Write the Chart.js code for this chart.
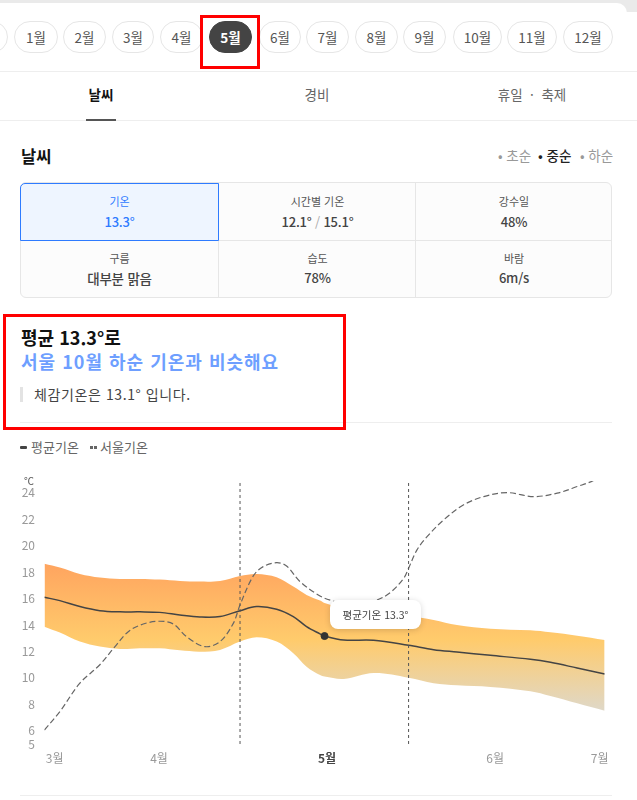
<!DOCTYPE html>
<html lang="ko"><head><meta charset="utf-8">
<script src="https://cdn.jsdelivr.net/npm/chart.js@4"></script>
<style>
*{box-sizing:border-box}
html,body{margin:0;padding:0;background:#fff;width:637px;height:800px;overflow:hidden;font-family:"Noto Sans CJK KR","Noto Sans",sans-serif}
.a{position:absolute;white-space:nowrap}
.c{transform:translate(-50%,-50%)}
.m{transform:translateY(-50%)}
.pill{position:absolute;top:21px;height:32px;border:1px solid #e6e6e6;border-radius:16px;font-size:13.5px;color:#555;display:flex;align-items:center;justify-content:center;background:#fff;padding-bottom:1px}
.pill.on{background:#444;border-color:#444;color:#fff;font-weight:700}
.red{position:absolute;border:3px solid #f00}
.cell{position:absolute;text-align:center}
.k{position:absolute;left:0;right:0;top:11px;font-size:11px;line-height:15px;color:#555}
.v{position:absolute;left:0;right:0;top:30px;font-size:13px;line-height:18px;font-weight:500;color:#444;letter-spacing:-.2px}
#chartBox{position:absolute;left:0;top:470px;width:637px;height:300px}
canvas{display:block}
</style></head><body>
<div class="a" style="left:0;top:0;width:637px;height:12px;background:#eaeaea"></div>
<div class="a" style="left:-20px;top:3px;width:647px;height:40px;background:#fff;border-radius:10px"></div>
<div id="pills"></div>
<div class="a" style="left:0;top:71px;width:637px;height:1px;background:#eee"></div>
<div class="a c" style="left:101px;top:94px;font-size:13.5px;font-weight:700;color:#111">날씨</div>
<div class="a c" style="left:317px;top:94px;font-size:13.5px;color:#666">경비</div>
<div class="a c" style="left:532px;top:94px;font-size:13.5px;color:#666">휴일 &nbsp;·&nbsp; 축제</div>
<div class="a" style="left:0;top:120px;width:637px;height:1px;background:#eee"></div>
<div class="a" style="left:86px;top:119px;width:30px;height:2px;background:#555"></div>

<div class="a m" style="left:21px;top:156px;font-size:16.5px;font-weight:700;color:#111">날씨</div>
<div class="a m" style="left:498px;top:155px;font-size:13.5px;color:#999">• 초순</div>
<div class="a m" style="left:538px;top:155px;font-size:13.5px;color:#222;font-weight:500">• 중순</div>
<div class="a m" style="left:580px;top:155px;font-size:13.5px;color:#999">• 하순</div>

<div class="a" style="left:20px;top:182px;width:592px;height:116px;border:1px solid #e6e6e6;border-radius:6px;background:#fcfcfc"></div>
<div class="a" style="left:218px;top:183px;width:1px;height:114px;background:#e6e6e6"></div>
<div class="a" style="left:415px;top:183px;width:1px;height:114px;background:#e6e6e6"></div>
<div class="a" style="left:21px;top:240px;width:590px;height:1px;background:#e6e6e6"></div>
<div class="a" style="left:20px;top:183px;width:199px;height:58px;border:1px solid #2e7bff;border-radius:5px 0 0 0;background:#eef5ff"></div>
<div class="cell" style="left:20px;top:183px;width:199px;height:58px"><div class="k" style="color:#2e7bff">기온</div><div class="v" style="color:#2e7bff">13.3°</div></div>
<div class="cell" style="left:219px;top:183px;width:197px;height:58px"><div class="k">시간별 기온</div><div class="v">12.1° <span style="color:#aaa;font-weight:400">/</span> 15.1°</div></div>
<div class="cell" style="left:416px;top:183px;width:196px;height:58px"><div class="k">강수일</div><div class="v">48%</div></div>
<div class="cell" style="left:20px;top:240px;width:199px;height:58px"><div class="k">구름</div><div class="v" style="font-size:13.5px;top:29px">대부분 맑음</div></div>
<div class="cell" style="left:219px;top:240px;width:197px;height:58px"><div class="k">습도</div><div class="v" style="top:29px">78%</div></div>
<div class="cell" style="left:416px;top:240px;width:196px;height:58px"><div class="k">바람</div><div class="v" style="top:29px">6m/s</div></div>

<div class="a m" style="left:21px;top:337px;font-size:18px;font-weight:700;color:#111">평균 13.3°로</div>
<div class="a m" style="left:21px;top:361px;font-size:18px;font-weight:700;color:#6e9fff;letter-spacing:1px">서울 10월 하순 기온과 비슷해요</div>
<div class="a" style="left:20px;top:387px;width:3px;height:15px;background:#e3e3e3"></div>
<div class="a m" style="left:34px;top:394px;font-size:14px;color:#444;letter-spacing:.6px">체감기온은 13.1° 입니다.</div>
<div class="a" style="left:20px;top:422px;width:592px;height:1px;background:#eee"></div>

<div class="a" style="left:20px;top:446px;width:7px;height:3px;background:#444;border-radius:1px"></div>
<div class="a m" style="left:31px;top:446px;font-size:13px;color:#666">평균기온</div>
<div class="a" style="left:90px;top:446px;width:3px;height:3px;background:#666"></div>
<div class="a" style="left:94px;top:446px;width:3px;height:3px;background:#666"></div>
<div class="a m" style="left:100px;top:446px;font-size:13px;color:#666">서울기온</div>

<div id="chartBox"><canvas id="cv" width="637" height="300"></canvas></div>
<div class="a m" style="left:24px;top:480px;font-size:10px;color:#555">℃</div>
<div class="a" style="left:330px;top:600px;width:91px;height:29px;background:#fff;border-radius:8px;box-shadow:0 1px 6px rgba(0,0,0,.16);display:flex;align-items:center;justify-content:center;font-size:10.5px;color:#444">평균기온 13.3°</div>
<div class="a" style="left:20px;top:795px;width:592px;height:1px;background:#eee"></div>

<div class="red" style="left:200px;top:15px;width:60px;height:54px"></div>
<div class="red" style="left:3px;top:314px;width:343px;height:116px"></div>

<script>
// Month selector
const monthNames=['1월','2월','3월','4월','5월','6월','7월','8월','9월','10월','11월','12월'];
const monthLeft=[14,63,112,160,209,259,306,355,403,453,507,563];
const monthRight=[58,106,154,203,252,301,349,398,446,502,557,613];
const selectedMonth='5월';
const pillsEl=document.getElementById('pills');
const pre=document.createElement('div');pre.className='pill';pre.style.left='-30px';pre.style.width='38px';pillsEl.appendChild(pre);
monthNames.forEach((n,i)=>{const d=document.createElement('div');d.className='pill'+(n===selectedMonth?' on':'');d.textContent=n;d.style.left=monthLeft[i]+'px';d.style.width=(monthRight[i]-monthLeft[i])+'px';pillsEl.appendChild(d);});

// Chart data (x in month units)
const bandX=[3.333,3.425,3.544,3.663,3.782,3.901,4.020,4.139,4.258,4.378,4.497,4.596,4.715,4.814,4.893,4.973,5.0,5.114,5.292,5.5,5.649,5.788,5.987,6.225,6.344,6.503,6.667];
const bandTop=[18.63,18.35,17.87,17.6,17.49,17.49,17.44,17.34,17.29,17.34,17.72,17.87,17.62,16.91,16.28,15.85,15.67,15.27,15.0,14.71,14.39,14.0,13.73,13.6,13.45,13.2,12.87];
const bandBottom=[13.88,13.43,12.75,12.37,12.19,12.24,12.24,12.09,11.99,12.12,12.75,13.07,12.75,11.87,10.85,10.22,10.1,9.92,10.37,10.02,9.6,9.44,9.32,8.99,8.63,8.08,7.52];
const meanTemp=[16.1,15.85,15.4,15.09,15.0,15.0,14.96,14.76,14.61,14.64,15.09,15.4,15.2,14.64,13.88,13.33,13.17,12.87,12.85,12.47,12.14,11.96,11.71,11.41,11.18,10.75,10.3];
const seoulX=[3.333,3.425,3.544,3.663,3.753,3.832,3.921,4.020,4.100,4.179,4.288,4.378,4.457,4.497,4.576,4.635,4.715,4.774,4.854,4.973,5.044,5.173,5.312,5.392,5.471,5.5,5.55,5.61,5.709,5.828,5.947,6.086,6.245,6.384,6.503,6.602,6.667];
const seoulTemp=[6.06,7.45,9.6,11.0,12.37,13.5,14.08,14.29,14.08,13.12,12.37,12.75,14.13,15.52,17.72,18.42,18.72,18.47,17.29,16.2,15.85,15.5,15.9,16.47,17.54,18.3,19.69,20.69,21.96,23.1,23.72,24.02,23.72,23.98,24.48,24.95,25.6];
const periodLines=[4.497,5.5];
const periodSpan=[24.75,4.85];
const selectedPoint={x:5.0,y:13.17};
const yTicks=[5,6,8,10,12,14,16,18,20,22,24];
const xTickValues=[3.394,4.015,5.015,6.015,6.637];
const xTickLabels=['3월','4월','5월','6월','7월'];

const toPts=(xs,ys)=>xs.map((x,i)=>({x,y:ys[i]}));
const bandFill=(ctx)=>{
  const {chart}=ctx; if(!chart.chartArea) return '#ffcb6c';
  const s=chart.scales.y;
  const g=chart.ctx.createLinearGradient(0,s.getPixelForValue(18.7),0,s.getPixelForValue(7.5));
  g.addColorStop(0,'#ffa45f');g.addColorStop(.52,'#ffcb6c');g.addColorStop(1,'#dfd8c8');
  return g;
};
const vLine=(x)=>({data:[{x,y:periodSpan[0]},{x,y:periodSpan[1]}],borderColor:'#555',borderWidth:1,borderDash:[3,3],pointRadius:0,clip:false,order:0});

new Chart(document.getElementById('cv'),{
  type:'line',
  data:{datasets:[
    {label:'상단',data:toPts(bandX,bandTop),borderWidth:0,pointRadius:0,tension:.35,fill:'+1',backgroundColor:bandFill,order:5},
    {label:'하단',data:toPts(bandX,bandBottom),borderWidth:0,pointRadius:0,tension:.35,fill:false,order:6},
    {label:'평균기온',data:toPts(bandX,meanTemp),borderColor:'#444',borderWidth:1.5,pointRadius:0,tension:.35,order:2},
    {label:'서울기온',data:toPts(seoulX,seoulTemp),borderColor:'#666',borderWidth:1.2,borderDash:[6,3],pointRadius:0,tension:.35,order:3},
    vLine(periodLines[0]),vLine(periodLines[1]),
    {label:'선택',data:[selectedPoint],pointRadius:3.5,pointBackgroundColor:'#333',pointBorderColor:'#333',showLine:false,order:1}
  ]},
  options:{
    responsive:false,animation:false,devicePixelRatio:1,
    layout:{padding:{top:11,right:32.3,bottom:0,left:0}},
    plugins:{legend:{display:false},tooltip:{enabled:false}},
    scales:{
      x:{type:'linear',min:3.333,max:6.667,
        grid:{display:false,drawTicks:false},border:{display:false},
        afterBuildTicks:s=>{s.ticks=xTickValues.map(value=>({value}));},
        afterFit:s=>{s.height=24;},
        ticks:{autoSkip:false,maxRotation:0,padding:5,
          callback:(v,i)=>xTickLabels[i],
          color:c=>c.index===2?'#444':'#999',
          font:c=>({family:'"Noto Sans CJK KR"',size:12,weight:c.index===2?'700':'400'})}},
      y:{type:'linear',min:4.85,max:24.9,
        grid:{display:false,drawTicks:false},border:{display:false},
        afterBuildTicks:s=>{s.ticks=yTicks.map(value=>({value}));},
        afterFit:s=>{s.width=44.4;s.paddingTop=0;s.paddingBottom=0;},
        ticks:{padding:9.4,autoSkip:false,color:'#999',font:{family:'"Noto Sans CJK KR"',size:12}}}
    }
  }
});
</script>
</body></html>
